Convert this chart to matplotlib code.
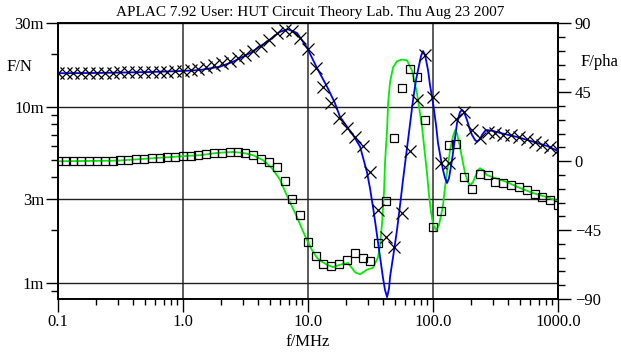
import matplotlib
matplotlib.use("Agg")
import matplotlib.pyplot as plt
from matplotlib.ticker import FixedLocator, NullFormatter, MultipleLocator

plt.rcParams['font.family'] = ['Liberation Serif', 'DejaVu Serif']

# measurement frequencies (MHz), 16 per decade
f_meas = [0.1, 0.115, 0.133, 0.154, 0.178, 0.205, 0.237, 0.274, 0.316, 0.365, 0.422, 0.487, 0.562, 0.649, 0.750, 0.866,
          1.0, 1.15, 1.33, 1.54, 1.78, 2.05, 2.37, 2.74, 3.16, 3.65, 4.22, 4.87, 5.62, 6.49, 7.50, 8.66,
          10.0, 11.5, 13.3, 15.4, 17.8, 20.5, 23.7, 27.4, 31.6, 36.5, 42.2, 48.7, 56.2, 64.9, 75.0, 86.6,
          100.0, 115.0, 133.0, 154.0, 178.0, 205.0, 237.0, 274.0, 316.0, 365.0, 422.0, 487.0, 562.0, 649.0, 750.0, 866.0,
          1000.0]

# F/N magnitude, measured (squares), in milli units
fn_meas = [4.93, 4.93, 4.93, 4.93, 4.94, 4.95, 4.96, 4.97, 5.00, 5.03, 5.07, 5.10, 5.13, 5.17, 5.20, 5.23,
           5.27, 5.31, 5.37, 5.42, 5.48, 5.50, 5.53, 5.53, 5.50, 5.34, 5.11, 4.89, 4.58, 3.82, 3.02, 2.43,
           1.72, 1.42, 1.29, 1.25, 1.28, 1.36, 1.49, 1.39, 1.33, 1.68, 2.94, 6.73, 12.9, 16.6, 14.9, 8.44,
           2.09, 2.58, 6.08, 6.22, 3.99, 3.41, 4.16, 4.11, 3.76, 3.71, 3.60, 3.50, 3.38, 3.20, 3.07, 2.96,
           2.77]

# F/pha phase, measured (crosses), degrees
pha_meas = [57.8, 57.8, 57.8, 57.8, 57.8, 57.9, 57.9, 57.9, 58.0, 58.0, 58.1, 58.2, 58.3, 58.4, 58.6, 58.8,
            59.0, 59.6, 60.1, 61.8, 62.9, 64.2, 65.5, 67.5, 69.4, 72.0, 75.3, 79.2, 83.8, 85.7, 85.1, 80.5,
            73.1, 60.7, 48.7, 38.3, 28.1, 21.5, 16.0, 10.0, -6.8, -31.9, -49.5, -56.0, -33.8, 6.7, 40.0, 69.4,
            41.9, -1.1, -1.1, 27.6, 32.2, 20.4, 15.2, 19.1, 18.5, 17.2, 17.2, 15.8, 14.5, 12.6, 10.6, 9.3,
            7.3]

# simulated F/N curve (green)
f_fn_sim = [0.1, 0.3, 1.0, 1.37, 1.87, 2.51, 3.02, 3.63, 4.37, 5.15, 5.97, 6.92, 8.17, 8.95, 9.82, 10.76,
            11.8, 12.94, 14.2, 15.85, 18.0, 20.9, 23.8, 26.1, 29.6, 33.1, 36.3, 37.7, 39.1, 40.6, 41.3, 42.1,
            42.9, 43.7, 45.3, 47.9, 51.5, 56.5, 61.9, 67.9, 74.5, 81.7, 89.5, 92.9, 96.4, 100.0, 105.7, 111.7,
            115.9, 120.2, 124.7, 131.8, 136.8, 144.5, 150.0, 155.6, 164.4, 173.8, 180.3, 190.5, 197.7, 208.9,
            216.8, 229.1, 237.7, 251.2, 270.4, 302.0, 390.8, 496.6, 631.0, 816.6, 1000.0]
fn_sim = [4.93, 4.97, 5.27, 5.34, 5.50, 5.57, 5.50, 5.34, 5.00, 4.50, 3.87, 3.04, 2.37, 2.03, 1.75, 1.54,
          1.39, 1.32, 1.27, 1.23, 1.27, 1.30, 1.15, 1.12, 1.19, 1.22, 1.40, 1.64, 2.19, 3.38, 4.81, 6.08,
          7.40, 10.5, 13.9, 16.9, 18.3, 18.7, 18.5, 16.2, 12.0, 7.70, 4.22, 3.16, 2.53, 2.16, 2.00, 2.14,
          2.43, 2.77, 3.51, 4.68, 5.70, 6.84, 7.40, 7.12, 5.93, 4.81, 4.22, 3.75, 3.60, 3.75,
          4.00, 4.39, 4.50, 4.39, 4.11, 4.00, 3.75, 3.47, 3.25, 3.08, 2.92]

# simulated phase curve (blue)
f_pha_sim = [0.1, 0.217, 0.545, 1.0, 1.37, 1.98, 2.51, 3.44, 4.70, 5.97, 6.92, 8.17, 9.82, 11.8, 14.2, 16.4,
             18.0, 20.5, 22.9, 26.1, 29.6, 31.3, 33.1, 35.0, 37.7, 39.8, 41.3, 42.9, 44.5, 45.3, 47.9, 51.5,
             54.5, 57.5, 63.1, 69.2, 73.1, 75.9, 80.2, 83.2, 86.3, 91.2, 94.6, 100.0, 105.7, 109.6, 115.9, 120.2,
             124.7, 129.4, 134.3, 141.9, 150.0, 155.6, 164.4, 170.6, 177.0, 187.1, 197.7, 205.1, 216.8, 224.9,
             237.7, 246.6, 260.6, 270.4, 302.0, 343.6, 469.9, 631.0, 816.6, 1000.0]
pha_sim = [57.5, 57.7, 58.3, 59.0, 59.6, 61.8, 65.0, 70.7, 78.1, 84.6, 86.2, 83.8, 74.2, 60.9, 48.7, 38.1,
           29.1, 22.6, 17.2, 9.5, -7.0, -17.5, -29.9, -43.6, -62.6, -76.3, -84.1, -88.7, -82.9, -75.6, -62.6, -44.9,
           -28.6, -12.3, 13.9, 40.0, 53.1, 59.6, 68.8, 72.0, 69.4, 59.6, 49.8, 38.1, 23.7, 11.9, 0.8, -5.7,
           -10.9, -14.2, -10.9, 0.8, 15.2, 25.0, 32.2, 33.5, 32.2, 26.9, 20.4, 17.2, 13.9, 12.8,
           14.5, 17.2, 19.8, 20.4, 19.8, 18.5, 15.9, 12.8, 10.0, 6.7]

fig = plt.figure(figsize=(6.21, 3.56), dpi=100)
ax = fig.add_axes([0.0934, 0.160, 0.8052, 0.774])
ax2 = ax.twinx()

ax.set_xscale('log')
ax.set_yscale('log')
ax.set_xlim(0.1, 1000)
ax.set_ylim(0.81, 30)
ax2.set_ylim(-90, 90)

ax.grid(True, which='major', axis='x', color='#5a5a5a', lw=1.4)
ax.grid(True, which='major', axis='y', color='#202020', lw=1.0)
ax.set_axisbelow(True)

ax.plot(f_fn_sim, fn_sim, color='#00ee00', lw=1.3, zorder=3)
ax.plot(f_meas, fn_meas, ls='none', marker='s', ms=6.3, mfc='none', mec='black', mew=0.9, zorder=4)
ax2.plot(f_pha_sim, pha_sim, color='#0000ff', lw=1.3, zorder=3)
ax2.plot(f_meas, pha_meas, ls='none', marker='x', ms=8.5, mec='black', mew=0.9, zorder=4)

ax.xaxis.set_major_locator(FixedLocator([0.1, 1, 10, 100, 1000]))
ax.set_xticklabels(['0.1', '1.0', '10.0', '100.0', '1000.0'])
ax.xaxis.set_minor_locator(FixedLocator([m * d for d in [0.1, 1, 10, 100] for m in range(2, 10)]))
ax.xaxis.set_minor_formatter(NullFormatter())

ax.yaxis.set_major_locator(FixedLocator([1, 3, 10, 30]))
ax.set_yticklabels(['1m', '3m', '10m', '30m'])
ax.yaxis.set_minor_locator(FixedLocator([0.9, 2, 4, 5, 6, 7, 8, 9, 20]))
ax.yaxis.set_minor_formatter(NullFormatter())

ax2.yaxis.set_major_locator(FixedLocator([-90, -45, 0, 45, 90]))
ax2.yaxis.set_minor_locator(MultipleLocator(9))

for a in (ax, ax2):
    a.tick_params(which='major', length=9, width=1.0, labelsize=12, color='black', pad=3)
    a.tick_params(which='minor', length=5, width=1.0, color='black')
ax.tick_params(axis='x', which='major', pad=1.5)
ax.tick_params(axis='x', which='minor', length=4)
ax.tick_params(axis='y', which='major', pad=1)

for s in ax.spines.values():
    s.set_linewidth(1.2)
for s in ax2.spines.values():
    s.set_linewidth(1.2)

fig.text(0.5, 0.966, 'APLAC 7.92 User: HUT Circuit Theory Lab. Thu Aug 23 2007', ha='center', va='center', fontsize=11)
fig.text(0.032, 0.812, 'F/N', ha='center', va='center', fontsize=12)
fig.text(0.965, 0.826, 'F/pha', ha='center', va='center', fontsize=12)
fig.text(0.496, 0.040, 'f/MHz', ha='center', va='center', fontsize=12)

fig.savefig('out.png', dpi=100)
